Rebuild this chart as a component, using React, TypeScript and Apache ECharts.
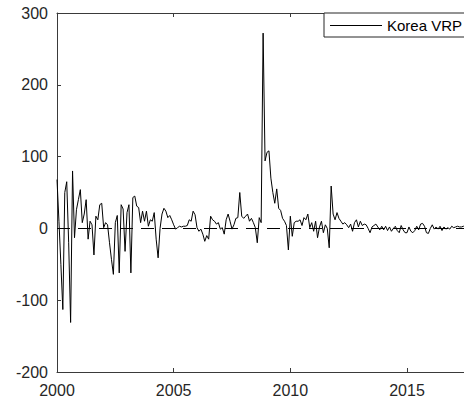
import React, { useEffect, useRef } from "react";
import * as echarts from "echarts";

const seriesName = "Korea VRP";
const startYear = 2000;
const xTickYears = [2000, 2005, 2010, 2015];
const yTicks = [-200, -100, 0, 100, 200, 300];

// Monthly values, Jan 2000 onward
const vrp2000to2003 = [
  68, 10, -50, -113, 50, 65, -20, -131, 80, -13, 26, 40,
  54, 8, 20, 40, -15, 10, 5, -37, 17, 12, 33, 35,
  1, 8, 5, -20, -43, -64, 8, 18, -62, 33, 27, -32,
  22, 33, -62, 43, 45, 31, 29, 8, 24, 10, 24, 3,
];
const vrp2004to2007 = [
  12, 10, 22, -15, -41, 0, 20, 28, 24, 15, 18, 12,
  5, -1, 1, 3, 2, 3, 3, 4, 12, 10, 24, 19,
  1, -4, -1, -8, -18, -10, -15, 17, 12, 10, 6, 8,
  -1, 1, -8, 12, 20, 10, -1, 5, 14, 15, 50, 17,
];
const vrp2008to2011 = [
  14, 17, 20, 10, 14, 8, 1, -20, 15, 8, 272, 94,
  106, 108, 70, 50, 35, 55, 28, 25, 14, 10, 4, -30,
  17, -11, 8, 10, 10, 12, 4, 15, 12, 20, 1, 8,
  -4, 10, -13, 2, 10, -6, 5, 0, -27, 59, 20, 12,
];
const vrp2012to2017 = [
  22, 14, 10, 6, 8, 5, 1, 6, -4, 8, 12, 2,
  10, 4, 6, 5, 0, -6, 2, 4, 6, 2, -2, 3,
  -2, 3, -3, 2, -4, 0, 3, -3, -6, 4, -2, -6,
  -6, 2, -4, -6, -3, 3, -2, 6, 7, 3, -6, -7,
  0, 5, -1, 2, -1, 3, -3, 2, -1, 1, -1, 3,
  1, 2, 3, 2, 2, 3, 2,
];

const values = [...vrp2000to2003, ...vrp2004to2007, ...vrp2008to2011, ...vrp2012to2017];

const FONT = "'Liberation Sans', Arial, Helvetica, sans-serif";
const AXIS_COLOR = "#3a3a3a";
const TEXT_COLOR = "#262626";

export default function App() {
  const ref = useRef<HTMLDivElement>(null);
  useEffect(() => {
    if (!ref.current) return;
    const chart = echarts.init(ref.current, undefined, { renderer: "svg" });
    const data = values.map((v, i) => [startYear + i / 12, v]);
    const xLabel = (v: number) => (xTickYears.includes(v) ? String(v) : "");
    const yLabel = (v: number) => (yTicks.includes(v) ? String(v) : "");
    chart.setOption({
      animation: false,
      backgroundColor: "#ffffff",
      textStyle: { fontFamily: FONT },
      grid: { left: 57, top: 13, bottom: 30, right: 23, containLabel: false },
      legend: {
        show: true,
        left: 324,
        top: 13,
        orient: "horizontal",
        padding: [5, 12, 4, 6],
        borderColor: "#262626",
        borderWidth: 1,
        borderRadius: 0,
        backgroundColor: "#ffffff",
        itemWidth: 52,
        itemHeight: 1,
        data: [{ name: seriesName, icon: "rect", itemStyle: { color: "#000000" } }],
        textStyle: { fontFamily: FONT, fontSize: 15, color: "#000000" },
      },
      xAxis: [
        {
          type: "value",
          min: 2000,
          max: 2018,
          interval: 5,
          position: "bottom",
          axisLine: { show: true, onZero: false, lineStyle: { color: AXIS_COLOR, width: 1 } },
          axisTick: { show: true, inside: true, length: 4, lineStyle: { color: AXIS_COLOR } },
          axisLabel: {
            show: true,
            margin: 10,
            fontSize: 16,
            fontFamily: FONT,
            color: TEXT_COLOR,
            showMaxLabel: false,
            formatter: xLabel,
          },
          splitLine: { show: false },
        },
        {
          type: "value",
          min: 2000,
          max: 2018,
          interval: 5,
          position: "top",
          axisLine: { show: true, onZero: false, lineStyle: { color: AXIS_COLOR, width: 1 } },
          axisTick: { show: true, inside: true, length: 4, lineStyle: { color: AXIS_COLOR } },
          axisLabel: { show: false },
          splitLine: { show: false },
        },
      ],
      yAxis: {
        type: "value",
        min: -200,
        max: 300,
        interval: 100,
        axisLine: { show: true, onZero: false, lineStyle: { color: AXIS_COLOR, width: 1 } },
        axisTick: { show: true, inside: true, length: 4, lineStyle: { color: AXIS_COLOR } },
        axisLabel: {
          show: true,
          margin: 9,
          fontSize: 16,
          fontFamily: FONT,
          color: TEXT_COLOR,
          formatter: yLabel,
        },
        splitLine: { show: false },
      },
      series: [
        {
          name: seriesName,
          type: "line",
          xAxisIndex: 0,
          data,
          showSymbol: false,
          symbol: "none",
          lineStyle: { color: "#000000", width: 1 },
          itemStyle: { color: "#000000" },
          z: 3,
          markLine: {
            silent: true,
            symbol: "none",
            label: { show: false },
            lineStyle: { color: "#000000", width: 1, type: [13, 8] },
            data: [{ yAxis: 0 }],
          },
        },
      ],
    });
    return () => chart.dispose();
  }, []);
  return (
    <div
      ref={ref}
      style={{ position: "fixed", left: 0, top: 0, width: 500, height: 402, background: "#fff" }}
    />
  );
}
